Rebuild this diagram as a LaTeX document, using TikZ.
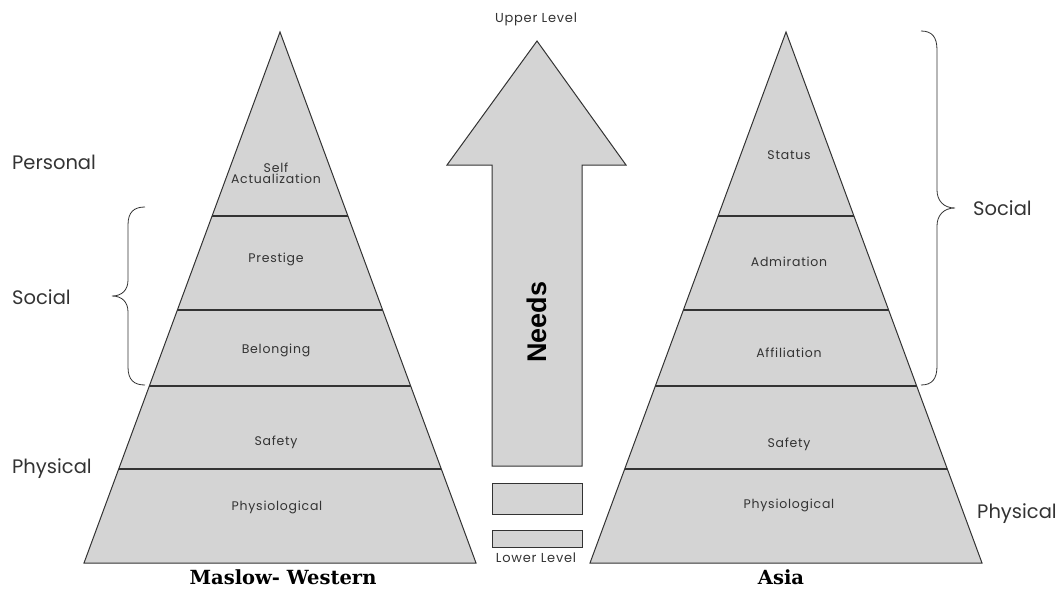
\documentclass[tikz,border=0pt]{standalone}
\usepackage{fontspec}
\setmainfont{Poppins}
\newfontfamily\needsfont{Liberation Sans}
\newfontfamily\titlefont{DejaVu Serif}
\newfontfamily\smallfont[LetterSpace=6]{Poppins}
\definecolor{pyrfill}{HTML}{D4D4D4}
\definecolor{pyrline}{HTML}{333333}
\definecolor{txt}{HTML}{333333}
\tikzset{
  x=1pt,y=-1pt,
  pyr/.style={fill=pyrfill,draw=pyrline,line width=1pt,line join=miter},
  layerline/.style={draw=pyrline,line width=1.1pt},
  inlabel/.style={font=\smallfont\fontsize{12.5}{14}\selectfont,text=txt,align=center,inner sep=0pt},
  sidelabel/.style={font=\fontsize{19.5}{22}\selectfont,text=txt,inner sep=0pt},
  bracestyle/.style={draw=pyrline,line width=0.8pt},
  titlelabel/.style={font=\titlefont\bfseries\fontsize{19.5}{21}\selectfont,inner sep=0pt},
  levellabel/.style={font=\smallfont\fontsize{13}{14}\selectfont,text=txt,inner sep=0pt}
}
\begin{document}
\begin{tikzpicture}
\useasboundingbox (0,0) rectangle (1060,589);
% ---- left pyramid
\begin{scope}
  \clip (280,32) -- (476,563) -- (84,563) -- cycle;
  \fill[pyrfill] (0,0) rectangle (1060,589);
  \foreach \yy in {216,310,386,469} \draw[layerline] (0,\yy) -- (1060,\yy);
\end{scope}
\draw[pyr,fill=none] (280,32) -- (476,563) -- (84,563) -- cycle;
% ---- right pyramid
\begin{scope}
  \clip (786,32) -- (982,563) -- (590,563) -- cycle;
  \fill[pyrfill] (0,0) rectangle (1060,589);
  \foreach \yy in {216,310,386,469} \draw[layerline] (0,\yy) -- (1060,\yy);
\end{scope}
\draw[pyr,fill=none] (786,32) -- (982,563) -- (590,563) -- cycle;
% ---- arrow and bars
\draw[pyr] (537,41) -- (626,165) -- (582,165) -- (582,466) -- (492,466) -- (492,165) -- (447,165) -- cycle;
\draw[pyr] (492,483) rectangle (582,514);
\draw[pyr] (492,530) rectangle (582,547);
\node[font=\needsfont\bfseries\fontsize{27}{30}\selectfont,rotate=90,inner sep=0pt] (needs) at (537,322) {Needs};
\node[levellabel] (upper) at (536,19) {Upper Level};
\node[levellabel] (lower) at (536,558) {Lower Level};
% ---- left labels
\node[inlabel] (self) at (276,173) {Self\\[-3pt]Actualization};
\node[inlabel] (prestige) at (276,259) {Prestige};
\node[inlabel] (belong) at (276,350) {Belonging};
\node[inlabel] (safetyL) at (276,442) {Safety};
\node[inlabel] (physL) at (277,507) {Physiological};
% ---- right labels
\node[inlabel] (status) at (789,155) {Status};
\node[inlabel] (admir) at (789,262) {Admiration};
\node[inlabel] (affil) at (789,353) {Affiliation};
\node[inlabel] (safetyR) at (789,444) {Safety};
\node[inlabel] (physR) at (789,505) {Physiological};
% ---- side labels
\node[sidelabel,anchor=west] (personal) at (12,162) {Personal};
\node[sidelabel,anchor=west] (socialL) at (12,297) {Social};
\node[sidelabel,anchor=west] (physicalL) at (12,469) {Physical};
\node[sidelabel,anchor=west] (socialR) at (973,208) {Social};
\node[sidelabel,anchor=west] (physicalR) at (977,514) {Physical};
% ---- braces
\draw[bracestyle] (145,207) .. controls (134,207) and (128,212) .. (128,225) -- (128,280)
  .. controls (128,290) and (122,296) .. (112,296)
  .. controls (122,296) and (128,302) .. (128,312) -- (128,367)
  .. controls (128,380) and (134,385) .. (145,385);
\draw[bracestyle] (921,31) .. controls (932,31) and (937,37) .. (937,50) -- (937,190)
  .. controls (937,200) and (943,208) .. (955,208)
  .. controls (943,208) and (937,216) .. (937,226) -- (937,366)
  .. controls (937,379) and (932,385) .. (921,385);
% ---- titles
\node[titlelabel,anchor=base] (titleL) at (283,584) {Maslow- Western};
\node[titlelabel,anchor=base] (titleR) at (781,584) {Asia};
\end{tikzpicture}
\end{document}
